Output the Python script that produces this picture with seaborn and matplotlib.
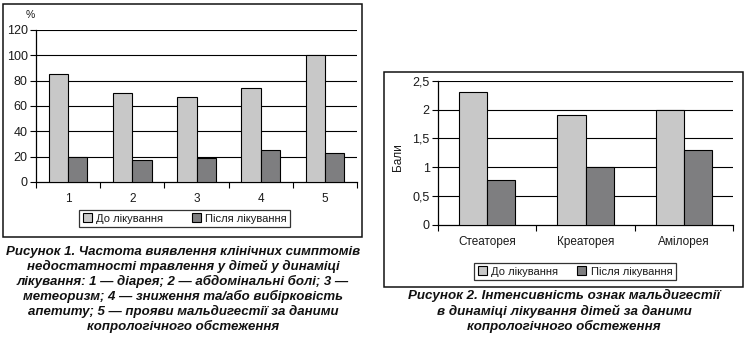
import matplotlib
matplotlib.use("Agg")
import matplotlib.pyplot as plt
import seaborn as sns
import pandas as pd
from matplotlib.patches import Rectangle, Patch

# Figure 1: frequency of symptoms, %
symptoms = ["1", "2", "3", "4", "5"]
before_pct = [85, 70, 67, 74, 100]
after_pct = [20, 17, 19, 25, 23]

# Figure 2: maldigestion intensity, points
signs = ["Стеаторея", "Креаторея", "Амілорея"]
before_pts = [2.3, 1.9, 2.0]
after_pts = [0.78, 1.0, 1.3]

series_names = ["До лікування", "Після лікування"]
y1_ticks = [0, 20, 40, 60, 80, 100, 120]
y2_ticks = [0, 0.5, 1, 1.5, 2, 2.5]
y2_labels = ["0", "0,5", "1", "1,5", "2", "2,5"]

caption1 = ("Рисунок 1. Частота виявлення клінічних симптомів\n"
            "недостатності травлення у дітей у динаміці\n"
            "лікування: 1 — діарея; 2 — абдомінальні болі; 3 —\n"
            "метеоризм; 4 — зниження та/або вибірковість\n"
            "апетиту; 5 — прояви мальдигестії за даними\n"
            "копрологічного обстеження")
caption2 = ("Рисунок 2. Інтенсивність ознак мальдигестії\n"
            "в динаміці лікування дітей за даними\n"
            "копрологічного обстеження")

sns.set_theme(style="white")
plt.rcParams["font.family"] = ["Liberation Sans", "DejaVu Sans"]

LIGHT = "#c8c8c8"
DARK = "#7e7e80"
TXT = "#1a1a1a"

W, H = 749, 342
fig = plt.figure(figsize=(W / 100, H / 100), dpi=100)
fig.patch.set_facecolor("white")


def fx(px):
    return px / W


def fy(py):
    return 1 - py / H


def frame(x0, y0, x1, y1):
    fig.patches.append(Rectangle((fx(x0), fy(y1)), fx(x1) - fx(x0), fy(y0) - fy(y1),
                                 transform=fig.transFigure, fill=False,
                                 edgecolor="#111111", linewidth=1.1))


def draw_bars(ax, cats, before, after, width, ymax, yticks, ylabels):
    df = pd.DataFrame({
        "cat": cats * 2,
        "value": list(before) + list(after),
        "series": [series_names[0]] * len(cats) + [series_names[1]] * len(cats),
    })
    sns.barplot(data=df, x="cat", y="value", hue="series", order=cats,
                hue_order=series_names, palette=[LIGHT, DARK], width=width,
                gap=0, edgecolor="black", linewidth=0.8, legend=False,
                errorbar=None, ax=ax, zorder=3)
    n = len(cats)
    ax.set_xlim(-0.5, n - 0.5)
    ax.set_ylim(0, ymax)
    ax.set_yticks(yticks)
    ax.set_yticklabels(ylabels)
    ax.set_xlabel("")
    ax.set_ylabel("")
    ax.set_xticks([i - 0.5 for i in range(n + 1)], minor=True)
    ax.tick_params(axis="x", which="major", length=0, pad=8, labelsize=8.5, labelcolor=TXT)
    ax.tick_params(axis="x", which="minor", direction="out", length=4, width=0.8,
                   color="black", bottom=True)
    ax.tick_params(axis="y", direction="out", length=4, width=0.8, color="black",
                   left=True, labelsize=9, labelcolor=TXT, pad=2)
    for yv in yticks[1:]:
        ax.axhline(yv, color="black", linewidth=0.8, zorder=1)
    for s in ["top", "right"]:
        ax.spines[s].set_visible(False)
    for s in ["left", "bottom"]:
        ax.spines[s].set_color("black")
        ax.spines[s].set_linewidth(0.9)
    ax.set_facecolor("white")


def legend(ax, cx, cy, colspace):
    handles = [Patch(facecolor=LIGHT, edgecolor="black", linewidth=0.8),
               Patch(facecolor=DARK, edgecolor="black", linewidth=0.8)]
    leg = ax.legend(handles, series_names, loc="center",
                    bbox_to_anchor=(fx(cx), fy(cy)), bbox_transform=fig.transFigure,
                    ncol=2, fontsize=8, frameon=True, fancybox=False,
                    handlelength=0.8, handleheight=0.8, handletextpad=0.38,
                    columnspacing=colspace, borderpad=0.35, borderaxespad=0)
    fr = leg.get_frame()
    fr.set_edgecolor("black")
    fr.set_linewidth(0.9)
    for t in leg.get_texts():
        t.set_color(TXT)


# Panel 1
frame(3, 4, 362, 237)
ax1 = fig.add_axes([fx(36), fy(182), fx(357) - fx(36), fy(30) - fy(182)])
draw_bars(ax1, symptoms, before_pct, after_pct, 0.6, 120, y1_ticks,
          [str(v) for v in y1_ticks])
legend(ax1, 184.5, 218.5, 2.6)
fig.text(fx(30), fy(15), "%", ha="center", va="center", fontsize=7.5, color=TXT)

# Panel 2
frame(384, 72, 743, 287)
ax2 = fig.add_axes([fx(438), fy(224.5), fx(733) - fx(438), fy(81) - fy(224.5)])
draw_bars(ax2, signs, before_pts, after_pts, 0.57, 2.5, y2_ticks, y2_labels)
legend(ax2, 575, 271.5, 1.75)
fig.text(fx(398), fy(157), "Бали", ha="center", va="center", rotation=90,
         fontsize=8.5, color=TXT)

# Captions
fig.text(fx(183), fy(289.5), caption1, ha="center", va="center", fontsize=9.5,
         fontweight="bold", fontstyle="italic", linespacing=1.2, color="#111111")
fig.text(fx(564), fy(311), caption2, ha="center", va="center", fontsize=9.6,
         fontweight="bold", fontstyle="italic", linespacing=1.2, color="#111111")

fig.savefig("out.png", dpi=100, facecolor="white")
